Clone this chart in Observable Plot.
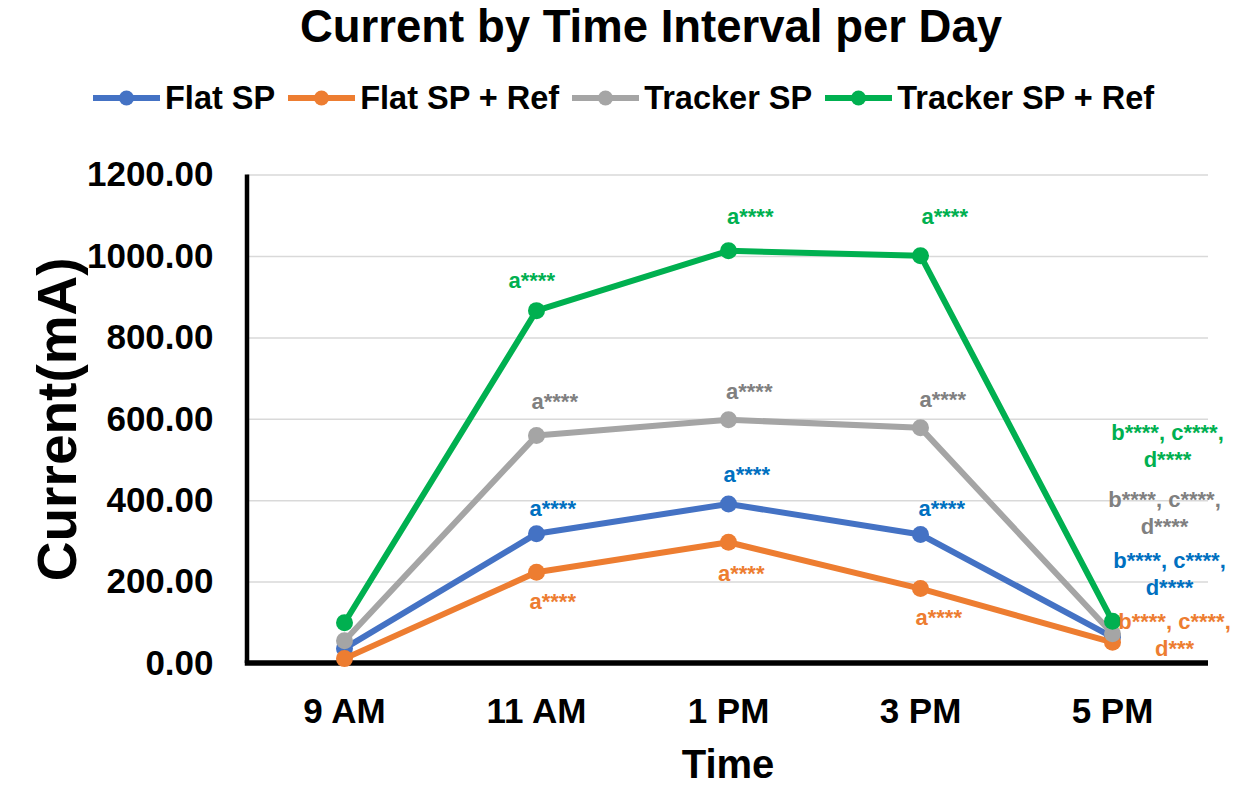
<!DOCTYPE html>
<html>
<head>
<meta charset="utf-8">
<script src="https://cdn.jsdelivr.net/npm/d3@7"></script>
<script src="https://cdn.jsdelivr.net/npm/@observablehq/plot@0.6"></script>
<style>
  html, body { margin: 0; padding: 0; background: #fff; overflow: hidden; }
  body { width: 1234px; height: 789px; position: relative; font-family: "Liberation Sans", Arial, sans-serif; color: #000; }
  #title { position: absolute; left: 151px; width: 1000px; top: 4px; text-align: center; font-size: 45.5px; line-height: 45px; font-weight: bold; white-space: nowrap; }
  #legend { position: absolute; left: 93px; top: 81px; display: flex; align-items: center; height: 34px; font-size: 32.5px; line-height: 34px; font-weight: bold; white-space: nowrap; }
  #legend .item { display: flex; align-items: center; margin-right: 13px; }
  #legend svg { display: block; margin-right: 5px; }
  #chart { position: absolute; left: 0; top: 130px; }
</style>
</head>
<body>
<div id="title">Current by Time Interval per Day</div>
<div id="legend"></div>
<div id="chart"></div>
<script>
// Measurement times
const times = ["9 AM", "11 AM", "1 PM", "3 PM", "5 PM"];

// Series names
const seriesNames = ["Flat SP", "Flat SP + Ref", "Tracker SP", "Tracker SP + Ref"];

// Mean current (mA) at each time
const flatSP = [37, 319, 392, 317, 65];
const flatSPRef = [12, 224, 298, 184, 52];
const trackerSP = [56, 560, 599, 579, 73];
const trackerSPRef = [100, 867, 1014, 1002, 104];

// Significance letters shown beside the points
const flatSPLabels = [null, "a****", "a****", "a****", "b****, c****,\nd****"];
const flatSPRefLabels = [null, "a****", "a****", "a****", "b****, c****,\nd***"];
const trackerSPLabels = [null, "a****", "a****", "a****", "b****, c****,\nd****"];
const trackerSPRefLabels = [null, "a****", "a****", "a****", "b****, c****,\nd****"];

// Y axis ticks
const yTicks = [0, 200, 400, 600, 800, 1000, 1200];

// ---- styling ----
const lineColors = ["#4472C4", "#ED7D31", "#A5A5A5", "#00B050"];
const labelColors = ["#0070C0", "#ED7D31", "#808080", "#00B050"];
const font = "'Liberation Sans', Arial, sans-serif";

const seriesValues = [flatSP, flatSPRef, trackerSP, trackerSPRef];
const seriesLabels = [flatSPLabels, flatSPRefLabels, trackerSPLabels, trackerSPRefLabels];

const rows = seriesNames.flatMap((s, i) =>
  times.map((t, j) => ({series: s, time: t, value: seriesValues[i][j], label: seriesLabels[i][j]}))
);

// label offsets in pixels from each point, [dx, dy]
const labelOffsets = [
  [null, [-7, -17.6], [-5, -21.6], [-2, -18.3], [57, -42]],
  [null, [-7, 36.6], [-10.5, 38.3], [-5, 36], [62, 13.3]],
  [null, [-5, -27], [-2.5, -21], [-1, -20.6], [52, -100]],
  [null, [-28, -23], [-1.5, -27], [1, -32], [55, -154]]
];

// legend
const legend = document.getElementById("legend");
seriesNames.forEach((s, i) => {
  const item = document.createElement("div");
  item.className = "item";
  item.innerHTML = `<svg width="67" height="34"><line x1="0" x2="67" y1="17" y2="17" stroke="${lineColors[i]}" stroke-width="6"/><circle cx="33.5" cy="17" r="7.5" fill="${lineColors[i]}"/></svg><span>${s}</span>`;
  legend.appendChild(item);
});

// axis lines along the left and bottom of the frame
const axisLines = (index, scales, values, dimensions) => {
  const {width, height, marginLeft, marginRight, marginTop, marginBottom} = dimensions;
  const g = d3.create("svg:g");
  g.append("line")
    .attr("x1", marginLeft).attr("x2", marginLeft)
    .attr("y1", marginTop).attr("y2", height - marginBottom)
    .attr("stroke", "#000").attr("stroke-width", 4.5);
  g.append("line")
    .attr("x1", marginLeft - 2.25).attr("x2", width - marginRight)
    .attr("y1", height - marginBottom).attr("y2", height - marginBottom)
    .attr("stroke", "#000").attr("stroke-width", 5.5);
  return g.node();
};

const seriesMarks = seriesNames.flatMap((s, i) => {
  const data = rows.filter(d => d.series === s);
  return [
    Plot.line(data, {x: "time", y: "value", stroke: lineColors[i], strokeWidth: 6, strokeLinejoin: "round"}),
    Plot.dot(data, {x: "time", y: "value", fill: lineColors[i], r: 8.5})
  ];
});

const labelMarks = [];
seriesNames.forEach((s, i) => {
  times.forEach((t, j) => {
    const text = seriesLabels[i][j];
    if (!text) return;
    const [dx, dy] = labelOffsets[i][j];
    const multi = text.includes("\n");
    labelMarks.push(Plot.text([{time: t, value: seriesValues[i][j], label: text}], {
      x: "time", y: "value", text: "label",
      dx, dy,
      textAnchor: multi ? "middle" : "start",
      lineAnchor: "bottom",
      lineHeight: 1.227,
      fill: labelColors[i],
      fontSize: 22,
      fontWeight: "bold",
      fontFamily: font
    }));
  });
});

const chart = Plot.plot({
  width: 1234,
  height: 659,
  marginLeft: 247,
  marginRight: 26,
  marginTop: 44.6,
  marginBottom: 126,
  style: {fontFamily: font, fontSize: "35px", fontWeight: "bold", color: "#000", background: "transparent", overflow: "visible"},
  x: {type: "point", domain: times, padding: 0.5, tickSize: 0, tickPadding: 35, label: null},
  y: {domain: [0, 1200], ticks: yTicks, tickFormat: d => d.toFixed(2), tickSize: 0, tickPadding: 34, label: null},
  marks: [
    Plot.ruleY(yTicks.slice(1), {stroke: "#d9d9d9", strokeWidth: 1.5}),
    axisLines,
    ...seriesMarks,
    ...labelMarks,
    Plot.text(["Time"], {frameAnchor: "bottom", dy: 114, textAnchor: "middle", lineAnchor: "bottom", fontSize: 40, fontWeight: "bold", fontFamily: font, fill: "#000"}),
    Plot.text(["Current(mA)"], {frameAnchor: "left", dx: -172, rotate: -90, textAnchor: "middle", lineAnchor: "bottom", fontSize: 55, fontWeight: "bold", fontFamily: font, fill: "#000"})
  ]
});
document.getElementById("chart").appendChild(chart);
</script>
</body>
</html>
